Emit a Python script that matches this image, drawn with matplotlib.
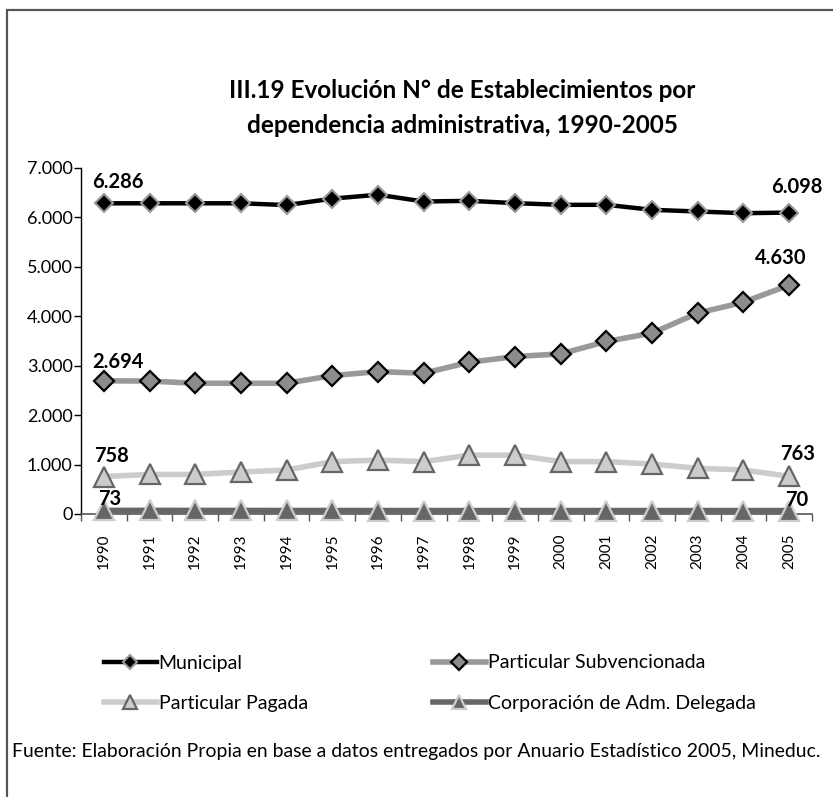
import matplotlib
matplotlib.use("Agg")
import matplotlib.pyplot as plt
from matplotlib.lines import Line2D
from matplotlib.patches import Rectangle
from matplotlib.ticker import FuncFormatter, FixedLocator

plt.rcParams['font.family'] = ['Lato', 'DejaVu Sans']

years = ['1990', '1991', '1992', '1993', '1994', '1995', '1996', '1997',
         '1998', '1999', '2000', '2001', '2002', '2003', '2004', '2005']
municipal = [6286, 6286, 6286, 6286, 6250, 6380, 6460, 6322, 6336, 6289,
             6255, 6255, 6154, 6120, 6086, 6098]
subvencionada = [2694, 2690, 2645, 2645, 2645, 2800, 2880, 2848, 3070, 3185,
                 3240, 3490, 3660, 4065, 4285, 4630]
pagada = [758, 800, 800, 850, 890, 1060, 1090, 1060, 1190, 1190,
          1060, 1060, 1010, 925, 890, 763]
corporacion = [73, 73, 72, 72, 71, 71, 70, 70, 70, 70, 70, 70, 70, 70, 70, 70]
series_names = ['Municipal', 'Particular Subvencionada', 'Particular Pagada',
                'Corporación de Adm. Delegada']
title = 'III.19 Evolución N° de Establecimientos por\ndependencia administrativa, 1990-2005'
source = 'Fuente: Elaboración Propia en base a datos entregados por Anuario Estadístico 2005, Mineduc.'

W, H = 833, 797
fig = plt.figure(figsize=(W / 100, H / 100), dpi=100)

def fx(px):
    return px / W

def fy(py):
    return 1 - py / H

# outer frame
fig.patches.append(Rectangle((fx(7), fy(H + 5)), fx(W + 10 - 7), fy(10) - fy(H + 5),
                             transform=fig.transFigure, fill=False,
                             edgecolor='#555555', linewidth=1.6))

ax = fig.add_axes([fx(81), fy(514), fx(812) - fx(81), fy(168) - fy(514)])
x = list(range(len(years)))

l1, = ax.plot(x, municipal, color='black', lw=3.2, marker='D', ms=9,
              mfc='black', mec='#999999', mew=1.5, zorder=5)
l2, = ax.plot(x, subvencionada, color='#999999', lw=4, marker='D', ms=10.5,
              mfc='#8c8c8c', mec='black', mew=1.6, zorder=4)
l3, = ax.plot(x, pagada, color='#cccccc', lw=4, marker='^', ms=14,
              mfc='#cccccc', mec='#666666', mew=1.6, zorder=3)
l4, = ax.plot(x, corporacion, color='#666666', lw=4, marker='^', ms=14,
              mfc='#666666', mec='#cccccc', mew=1.6, zorder=6, clip_on=False)

ax.set_xlim(-0.5, len(years) - 0.5)
ax.set_ylim(0, 7000)
ax.set_yticks(range(0, 7001, 1000))
ax.yaxis.set_major_formatter(FuncFormatter(lambda v, p: f'{int(v):,}'.replace(',', '.')))
ax.set_xticks(x)
ax.set_xticklabels(years, rotation=90, fontsize=11)
ax.xaxis.set_minor_locator(FixedLocator([i - 0.5 for i in range(len(years) + 1)]))
ax.tick_params(axis='x', which='major', length=0, pad=14)
ax.tick_params(axis='x', which='minor', length=5, color='#555555', width=1)
ax.tick_params(axis='y', length=5, width=1, labelsize=13, pad=1)
for s in ['top', 'right']:
    ax.spines[s].set_visible(False)
ax.spines['left'].set_linewidth(1)
ax.spines['bottom'].set_color('#555555')
ax.spines['bottom'].set_linewidth(1.2)

def lab(i, vals, dx, dy):
    ax.annotate(f'{vals[i]:,}'.replace(',', '.'), (i, vals[i]), xytext=(dx, dy),
                textcoords='offset pixels', ha='center', va='center',
                fontsize=14.5, fontweight='bold', zorder=10, annotation_clip=False)

lab(0, municipal, 14, 21)
lab(15, municipal, 8, 26)
lab(0, subvencionada, 14, 19)
lab(15, subvencionada, -8, 27)
lab(0, pagada, 8, 21)
lab(15, pagada, 8, 22)
lab(0, corporacion, 6, 11)
lab(15, corporacion, 8, 11)

fig.text(fx(462), fy(108), title, ha='center', va='center', fontsize=17.5,
         fontweight='bold', linespacing=1.6)

fs_leg = 14
leg1 = fig.legend([l1, l3], [series_names[0], series_names[2]], loc='upper left',
                  bbox_to_anchor=(fx(86), fy(637)), frameon=False, fontsize=fs_leg,
                  handlelength=2.75, handletextpad=0.08, labelspacing=1.2, markerscale=0.75)
leg2 = fig.legend([l2, l4], [series_names[1], series_names[3]], loc='upper left',
                  bbox_to_anchor=(fx(415), fy(637)), frameon=False, fontsize=fs_leg,
                  handlelength=2.75, handletextpad=0.08, labelspacing=1.2, markerscale=0.75)

t = fig.text(fx(12), fy(751), source, ha='left', va='center', fontsize=14)
fig.canvas.draw()
bb = t.get_window_extent()
target = 822 - 12
if bb.width > 0:
    t.set_fontsize(14 * target / bb.width)

fig.savefig('out.png', dpi=100)
